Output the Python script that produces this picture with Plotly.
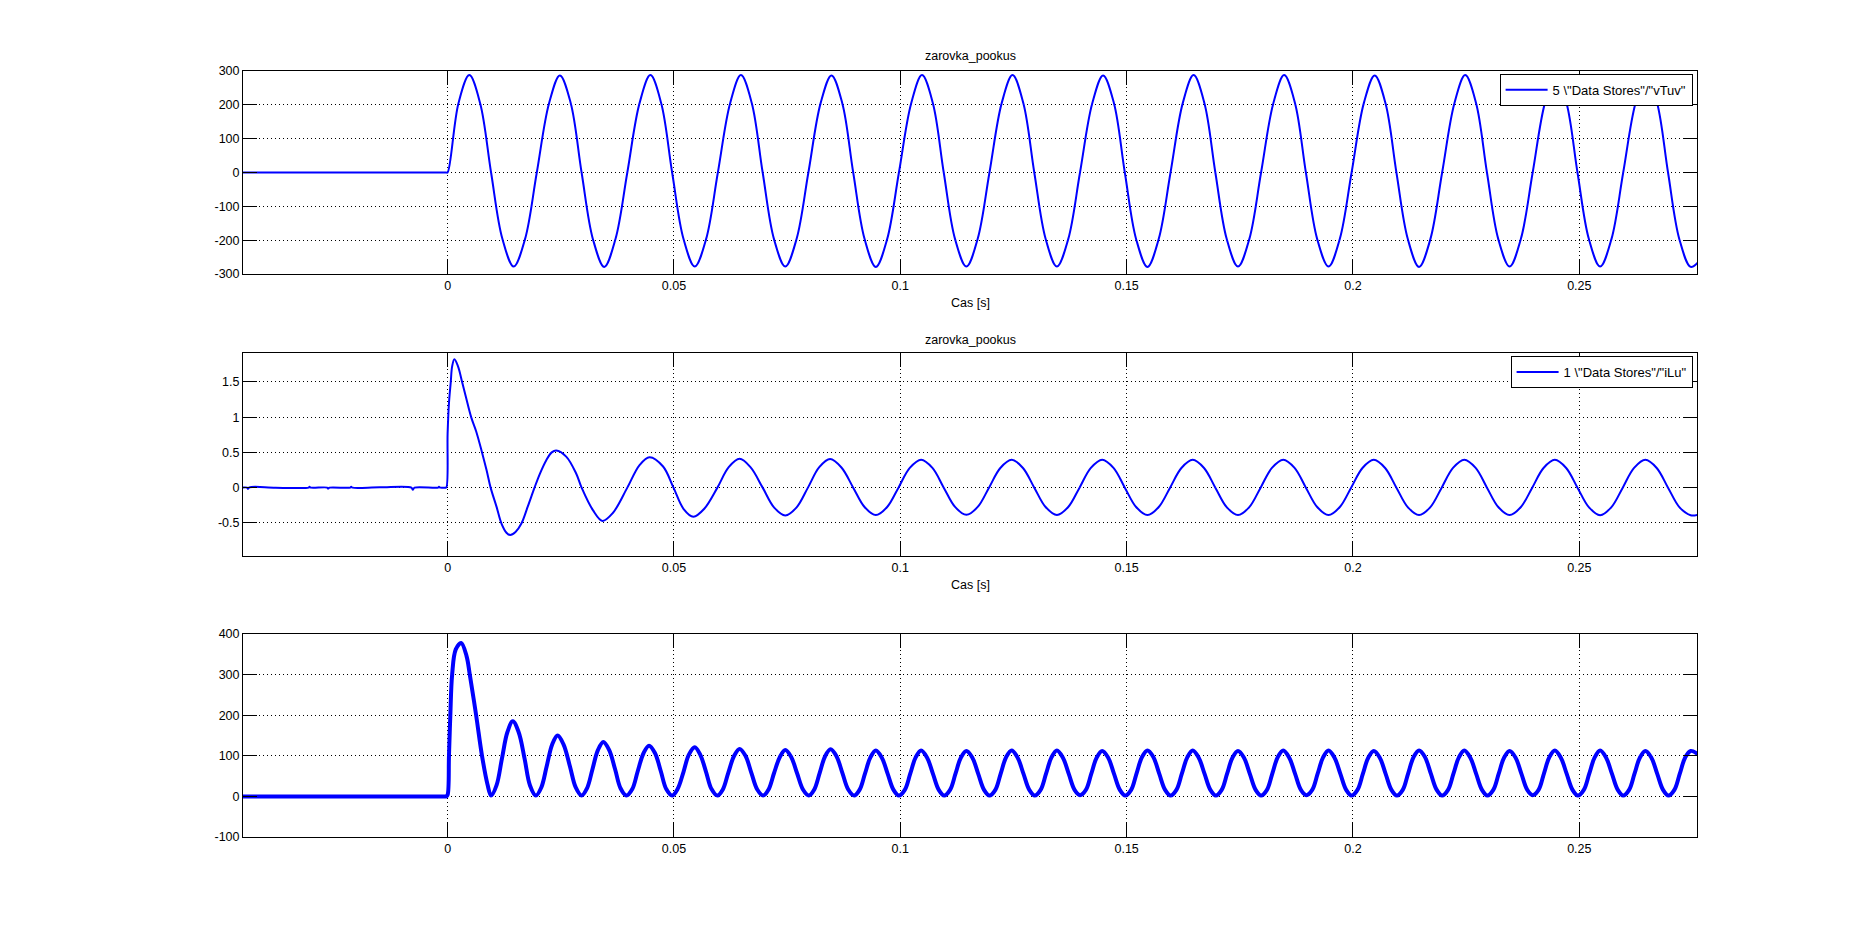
import plotly.graph_objects as go

# ---------------- data ----------------
x_tickvals = [0, 0.05, 0.1, 0.15, 0.2, 0.25]
x_ticktext = ["0", "0.05", "0.1", "0.15", "0.2", "0.25"]
y1_tickvals = [-300, -200, -100, 0, 100, 200, 300]
y1_ticktext = ["-300", "-200", "-100", "0", "100", "200", "300"]
y2_tickvals = [-0.5, 0, 0.5, 1, 1.5]
y2_ticktext = ["-0.5", "0", "0.5", "1", "1.5"]
y3_tickvals = [-100, 0, 100, 200, 300, 400]
y3_ticktext = ["-100", "0", "100", "200", "300", "400"]

title_text = "zarovka_pookus"
xlabel_text = "Cas [s]"
name_v = '5 \\"Data Stores"/"vTuv"'
name_i = '1 \\"Data Stores"/"iLu"'

# subplot 1 : vTuv
t_v = [
    -0.0455, -0.0200, -0.0006, -0.0003, 0.0,
    0.0024, 0.0048, 0.0072, 0.0096, 0.0121, 0.0146, 0.0171, 0.0197,
    0.0224, 0.0248, 0.0272, 0.0296, 0.0321, 0.0346, 0.0371, 0.0397,
    0.0424, 0.0448, 0.0472, 0.0496, 0.0521, 0.0546, 0.0571, 0.0597,
    0.0624, 0.0648, 0.0672, 0.0696, 0.0721, 0.0746, 0.0771, 0.0797,
    0.0824, 0.0848, 0.0872, 0.0896, 0.0921, 0.0946, 0.0971, 0.0997,
    0.1024, 0.1048, 0.1072, 0.1096, 0.1121, 0.1146, 0.1171, 0.1197,
    0.1224, 0.1248, 0.1272, 0.1296, 0.1321, 0.1346, 0.1371, 0.1397,
    0.1424, 0.1448, 0.1472, 0.1496, 0.1521, 0.1546, 0.1571, 0.1597,
    0.1624, 0.1648, 0.1672, 0.1696, 0.1721, 0.1746, 0.1771, 0.1797,
    0.1824, 0.1848, 0.1872, 0.1896, 0.1921, 0.1946, 0.1971, 0.1997,
    0.2024, 0.2048, 0.2072, 0.2096, 0.2121, 0.2146, 0.2171, 0.2197,
    0.2224, 0.2248, 0.2272, 0.2296, 0.2321, 0.2346, 0.2371, 0.2397,
    0.2424, 0.2448, 0.2472, 0.2496, 0.2521, 0.2546, 0.2571, 0.2597,
    0.2624, 0.2648, 0.2672, 0.2696, 0.2721, 0.2746, 0.2762,
]
v_vals = [
    0, 0, 0, 0, 0,
    205, 288, 204, 0, -196, -278, -197, 0,
    204, 287, 205, 0, -197, -279, -196, 0,
    205, 288, 204, 0, -196, -278, -197, 0,
    204, 288, 205, 0, -197, -278, -196, 0,
    205, 287, 204, 0, -196, -279, -197, 0,
    204, 288, 205, 0, -197, -278, -196, 0,
    205, 288, 204, 0, -196, -278, -197, 0,
    204, 287, 205, 0, -197, -279, -196, 0,
    205, 288, 204, 0, -196, -278, -197, 0,
    204, 288, 205, 0, -197, -278, -196, 0,
    205, 287, 204, 0, -196, -279, -197, 0,
    204, 288, 205, 0, -197, -278, -196, 0,
    205, 288, 204, 0, -196, -278, -197, 0,
    204, 287, 205, 0, -197, -279, -266,
]

# subplot 2 : iLu
t_i = [
    -0.0455, -0.0443, -0.0441, -0.0438, -0.0380, -0.0307, -0.0305, -0.0302,
    -0.0266, -0.0264, -0.0261, -0.0215, -0.0213, -0.0210, -0.0150, -0.0080,
    -0.0077, -0.0073, -0.0021, -0.0019, -0.0016, -0.0006, -0.0003,
    0.0, 0.0003, 0.0007, 0.0010, 0.0015, 0.0023, 0.0032, 0.0041, 0.0052,
    0.0063, 0.0076, 0.0086, 0.0095, 0.0108, 0.0119, 0.0130, 0.0138, 0.0150,
    0.0163, 0.0177, 0.0192, 0.0204, 0.0218, 0.0230, 0.0240, 0.0262, 0.0284,
    0.0296, 0.0321, 0.0342, 0.0365, 0.0397, 0.0424, 0.0446, 0.0476, 0.0499,
    0.0521, 0.0543, 0.0567, 0.0596, 0.0621, 0.0645, 0.0669, 0.0696,
    0.0721, 0.0746, 0.0771, 0.0796, 0.0821, 0.0845, 0.0870, 0.0896,
    0.0921, 0.0946, 0.0971, 0.0996,
    0.1021, 0.1046, 0.1071, 0.1096, 0.1121, 0.1146, 0.1171, 0.1196,
    0.1221, 0.1246, 0.1271, 0.1296, 0.1321, 0.1346, 0.1371, 0.1396,
    0.1421, 0.1446, 0.1471, 0.1496, 0.1521, 0.1546, 0.1571, 0.1596,
    0.1621, 0.1646, 0.1671, 0.1696, 0.1721, 0.1746, 0.1771, 0.1796,
    0.1821, 0.1846, 0.1871, 0.1896, 0.1921, 0.1946, 0.1971, 0.1996,
    0.2021, 0.2046, 0.2071, 0.2096, 0.2121, 0.2146, 0.2171, 0.2196,
    0.2221, 0.2246, 0.2271, 0.2296, 0.2321, 0.2346, 0.2371, 0.2396,
    0.2421, 0.2446, 0.2471, 0.2496, 0.2521, 0.2546, 0.2571, 0.2596,
    0.2621, 0.2646, 0.2671, 0.2696, 0.2721, 0.2746, 0.2762,
]
i_vals = [
    0.0, 0.0, -0.018, 0.004, 0.0, 0.0, 0.011, 0.0,
    0.0, -0.014, 0.0, 0.0, 0.011, 0.0, 0.004, 0.0,
    -0.03, 0.0, 0.0, 0.011, 0.0, 0.0, 0.0,
    0.77, 1.2, 1.5, 1.72, 1.82, 1.72, 1.5, 1.27, 1.0,
    0.8, 0.5, 0.25, 0.0, -0.27, -0.51, -0.64, -0.672, -0.63,
    -0.51, -0.27, 0.0, 0.2, 0.39, 0.5, 0.527, 0.44, 0.2,
    0.0, -0.32, -0.472, -0.36, 0.0, 0.32, 0.432, 0.30, 0.0,
    -0.30, -0.413, -0.30, 0.0, 0.29, 0.408, 0.29, 0.0,
    -0.28, -0.395, -0.28, 0.0, 0.29, 0.405, 0.285, 0.0,
    -0.275, -0.39, -0.275, 0.0,
    0.28, 0.396, 0.28, 0.0, -0.274, -0.386, -0.274, 0.0,
    0.279, 0.395, 0.279, 0.0, -0.275, -0.388, -0.275, 0.0,
    0.28, 0.396, 0.28, 0.0, -0.275, -0.39, -0.275, 0.0,
    0.279, 0.395, 0.279, 0.0, -0.276, -0.39, -0.276, 0.0,
    0.28, 0.396, 0.28, 0.0, -0.275, -0.389, -0.275, 0.0,
    0.279, 0.395, 0.279, 0.0, -0.276, -0.39, -0.276, 0.0,
    0.28, 0.396, 0.28, 0.0, -0.275, -0.39, -0.275, 0.0,
    0.279, 0.395, 0.279, 0.0, -0.276, -0.391, -0.276, 0.0,
    0.28, 0.395, 0.279, 0.0, -0.276, -0.392, -0.385,
]

# subplot 3 : power
t_p = [
    -0.0455, -0.0300, -0.0150, -0.0020, -0.0006, -0.0003,
    0.0, 0.0003, 0.0006, 0.0010, 0.0018, 0.0030, 0.0042, 0.0049, 0.0063, 0.0076, 0.0088, 0.0096,
    0.0108, 0.0120, 0.0132, 0.0144, 0.0157, 0.0170, 0.0182, 0.0195,
    0.0207, 0.0219, 0.0231, 0.0243, 0.0256, 0.0270, 0.0283, 0.0296,
    0.0308, 0.0320, 0.0332, 0.0344, 0.0357, 0.0370, 0.0382, 0.0395,
    0.0408, 0.0420, 0.0433, 0.0445, 0.0458, 0.0471, 0.0483, 0.0496,
    0.0508, 0.0521, 0.0533, 0.0546, 0.0558, 0.0571, 0.0583, 0.0596,
    0.0608, 0.0620, 0.0633, 0.0645, 0.0658, 0.0671, 0.0684, 0.0697,
    0.0709, 0.0721, 0.0734, 0.0746, 0.0759, 0.0772, 0.0785, 0.0798,
    0.0810, 0.0822, 0.0834, 0.0846, 0.0859, 0.0872, 0.0885, 0.0898,
    0.0910, 0.0922, 0.0934, 0.0946, 0.0959, 0.0972, 0.0985, 0.0997,
    0.1010, 0.1022, 0.1034, 0.1046, 0.1059, 0.1072, 0.1085, 0.1097,
    0.1110, 0.1122, 0.1134, 0.1146, 0.1159, 0.1172, 0.1185, 0.1197,
    0.1210, 0.1222, 0.1234, 0.1246, 0.1259, 0.1272, 0.1285, 0.1297,
    0.1310, 0.1322, 0.1334, 0.1346, 0.1359, 0.1372, 0.1385, 0.1397,
    0.1410, 0.1422, 0.1434, 0.1446, 0.1459, 0.1472, 0.1485, 0.1497,
    0.1510, 0.1522, 0.1534, 0.1546, 0.1559, 0.1572, 0.1585, 0.1597,
    0.1610, 0.1622, 0.1634, 0.1646, 0.1659, 0.1672, 0.1685, 0.1697,
    0.1710, 0.1722, 0.1734, 0.1746, 0.1759, 0.1772, 0.1785, 0.1797,
    0.1810, 0.1822, 0.1834, 0.1846, 0.1859, 0.1872, 0.1885, 0.1897,
    0.1910, 0.1922, 0.1934, 0.1946, 0.1959, 0.1972, 0.1985, 0.1997,
    0.2010, 0.2022, 0.2034, 0.2046, 0.2059, 0.2072, 0.2085, 0.2097,
    0.2110, 0.2122, 0.2134, 0.2146, 0.2159, 0.2172, 0.2185, 0.2197,
    0.2210, 0.2222, 0.2234, 0.2246, 0.2259, 0.2272, 0.2285, 0.2297,
    0.2310, 0.2322, 0.2334, 0.2346, 0.2359, 0.2372, 0.2385, 0.2397,
    0.2410, 0.2422, 0.2434, 0.2446, 0.2459, 0.2472, 0.2485, 0.2497,
    0.2510, 0.2522, 0.2534, 0.2546, 0.2559, 0.2572, 0.2585, 0.2597,
    0.2610, 0.2622, 0.2634, 0.2646, 0.2659, 0.2672, 0.2685, 0.2697,
    0.2710, 0.2722, 0.2734, 0.2746, 0.2762,
]
p_vals = [
    0, 0, 0, 0, 0, 0,
    4, 100, 200, 300, 362, 378, 345, 300, 200, 100, 30, 2,
    27, 93, 158, 185, 158, 93, 27, 2,
    22, 75, 128, 150, 128, 75, 22, 2,
    20, 67, 114, 134, 114, 67, 20, 2,
    18, 62, 107, 125, 107, 62, 18, 2,
    18, 60, 103, 121, 103, 60, 18, 2,
    17, 58, 100, 117, 100, 58, 17, 2,
    17, 57, 97, 114, 97, 57, 17, 2,
    17, 58, 99, 116, 99, 58, 17, 2,
    16, 56, 96, 113, 96, 56, 16, 2,
    16, 56, 96, 113, 96, 56, 16, 2,
    16, 56, 96, 112, 96, 56, 16, 2,
    16, 57, 97, 113, 96, 56, 16, 2,
    16, 56, 96, 113, 96, 56, 16, 3,
    16, 56, 96, 112, 96, 56, 16, 2,
    16, 57, 97, 113, 97, 56, 16, 2,
    16, 56, 96, 113, 96, 56, 16, 2,
    16, 56, 96, 112, 96, 56, 16, 2,
    16, 57, 97, 113, 96, 56, 16, 3,
    16, 56, 96, 113, 96, 56, 16, 2,
    16, 56, 96, 112, 96, 56, 16, 2,
    16, 57, 97, 113, 97, 56, 16, 2,
    16, 56, 96, 113, 96, 56, 16, 2,
    16, 56, 96, 112, 96, 56, 16, 3,
    16, 57, 97, 113, 96, 56, 16, 2,
    16, 56, 96, 113, 96, 56, 16, 2,
    16, 56, 96, 112, 96, 56, 16, 2,
    16, 56, 96, 112, 104,
]

assert len(t_v) == len(v_vals), (len(t_v), len(v_vals))
assert len(t_i) == len(i_vals), (len(t_i), len(i_vals))
assert len(t_p) == len(p_vals), (len(t_p), len(p_vals))

# ---------------- figure ----------------
W, H = 1873, 941
ML, MR, MT, MB = 243, 176, 71, 104
PH = H - MT - MB
X_RANGE = [-0.0452, 0.276]
FONT = "Liberation Sans, Arial, Helvetica, sans-serif"
BLUE = "#0000ff"


def ypaper(px):
    return 1 - (px - MT) / PH


fig = go.Figure()
fig.add_trace(go.Scatter(x=t_v, y=v_vals, mode="lines", name=name_v,
                         line=dict(color=BLUE, width=2, shape="spline", smoothing=1),
                         xaxis="x", yaxis="y", legend="legend"))
fig.add_trace(go.Scatter(x=t_i, y=i_vals, mode="lines", name=name_i,
                         line=dict(color=BLUE, width=2, shape="spline", smoothing=1),
                         xaxis="x2", yaxis="y2", legend="legend2"))
fig.add_trace(go.Scatter(x=t_p, y=p_vals, mode="lines", name="p",
                         line=dict(color=BLUE, width=4, shape="spline", smoothing=1),
                         xaxis="x3", yaxis="y3", showlegend=False))

common = dict(showline=True, linecolor="black", linewidth=1, mirror="ticks",
              ticks="inside", ticklen=14, tickwidth=1, tickcolor="black",
              showgrid=True, gridcolor="black", gridwidth=1, griddash="1px,3px",
              zeroline=False, tickfont=dict(family=FONT, size=12.5, color="black"))

doms = [
    [ypaper(274), ypaper(71)],
    [ypaper(556), ypaper(353)],
    [ypaper(837), ypaper(634)],
]

layout = dict(
    width=W, height=H, autosize=False,
    margin=dict(l=ML, r=MR, t=MT, b=MB, pad=0),
    paper_bgcolor="white", plot_bgcolor="white",
    font=dict(family=FONT, size=12.5, color="black"),
    showlegend=True,
)
xa = dict(common, range=X_RANGE, tickmode="array", tickvals=x_tickvals, ticktext=x_ticktext, domain=[0, 1])
layout["xaxis"] = dict(xa, anchor="y")
layout["xaxis2"] = dict(xa, anchor="y2")
layout["xaxis3"] = dict(xa, anchor="y3")
layout["yaxis"] = dict(common, range=[-300, 300], tickmode="array", tickvals=y1_tickvals,
                       ticktext=y1_ticktext, domain=doms[0], anchor="x")
layout["yaxis2"] = dict(common, range=[-0.97, 1.91], tickmode="array", tickvals=y2_tickvals,
                        ticktext=y2_ticktext, domain=doms[1], anchor="x2")
layout["yaxis3"] = dict(common, range=[-100, 400], tickmode="array", tickvals=y3_tickvals,
                        ticktext=y3_ticktext, domain=doms[2], anchor="x3")

leg = dict(xref="paper", yref="paper", xanchor="right", yanchor="middle",
           bordercolor="black", borderwidth=1, bgcolor="white", itemwidth=42,
           font=dict(family=FONT, size=13, color="black"))
layout["legend"] = dict(leg, x=(1692.6 - ML) / (W - ML - MR), y=ypaper(89.8))
layout["legend2"] = dict(leg, x=(1692.6 - ML) / (W - ML - MR), y=ypaper(372))

ann = []
for txt, ypx in [(title_text, 56), (xlabel_text, 303), (title_text, 340), (xlabel_text, 585)]:
    ann.append(dict(text=txt, xref="paper", yref="paper", x=0.5, y=ypaper(ypx),
                    xanchor="center", yanchor="middle", showarrow=False,
                    font=dict(family=FONT, size=12.5, color="black")))
layout["annotations"] = ann

fig.update_layout(**layout)

fig.write_html("out.html", include_plotlyjs=True, full_html=True,
               config={"displayModeBar": False},
               post_script="document.body.style.margin='0';document.body.style.overflow='hidden';")
